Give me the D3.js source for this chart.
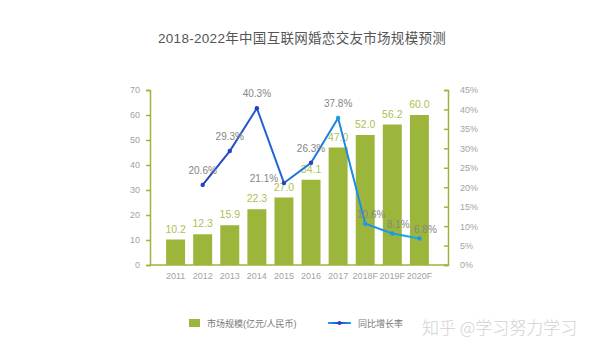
<!DOCTYPE html>
<html>
<head>
<meta charset="utf-8">
<script src="https://cdn.jsdelivr.net/npm/d3@7"></script>
<style>
  body { margin: 0; background: #fff; }
  svg { display: block; font-family: "Liberation Sans", "Noto Sans CJK SC", sans-serif; }
</style>
</head>
<body>
<svg id="chart" width="600" height="352"></svg>
<script>
// chart data
const years = ['2011', '2012', '2013', '2014', '2015', '2016', '2017', '2018F', '2019F', '2020F'];
const marketSize = [10.2, 12.3, 15.9, 22.3, 27.0, 34.1, 47.0, 52.0, 56.2, 60.0];
const growth = [null, 20.6, 29.3, 40.3, 21.1, 26.3, 37.8, 10.6, 8.1, 6.8];
const leftTicks = [0, 10, 20, 30, 40, 50, 60, 70];
const rightTicks = [0, 5, 10, 15, 20, 25, 30, 35, 40, 45];

const green = '#9cb53b';
const svg = d3.select('#chart');

// title
svg.append('text')
  .attr('x', 302).attr('y', 43)
  .attr('text-anchor', 'middle')
  .attr('font-size', 13.5)
  .attr('letter-spacing', 0.3)
  .attr('fill', '#555')
  .text('2018-2022年中国互联网婚恋交友市场规模预测');

// scales
const x = d3.scaleBand().domain(years).range([158, 437]).padding(0.3);
const yLeft = d3.scaleLinear().domain([0, 70]).range([265, 90]);
const yRight = d3.scaleLinear().domain([0, 45]).range([265, 90]);

// bars
svg.append('g').selectAll('rect')
  .data(years)
  .join('rect')
  .attr('x', d => x(d))
  .attr('width', x.bandwidth())
  .attr('y', (d, i) => yLeft(marketSize[i]))
  .attr('height', (d, i) => yLeft(0) - yLeft(marketSize[i]))
  .attr('fill', green);

// axes
const leftAxis = svg.append('g')
  .attr('transform', 'translate(150,0)')
  .call(d3.axisLeft(yLeft).tickValues(leftTicks).tickSize(4).tickPadding(6));

const rightAxis = svg.append('g')
  .attr('transform', 'translate(448,0)')
  .call(d3.axisRight(yRight).tickValues(rightTicks).tickSize(-4).tickPadding(12)
    .tickFormat(d => d + '%'));

const bottomAxis = svg.append('g')
  .attr('transform', 'translate(0,265)')
  .call(d3.axisBottom(x).tickSize(0).tickPadding(8));
bottomAxis.select('.domain').attr('d', 'M150,0H448');

[leftAxis, rightAxis, bottomAxis].forEach(g => {
  g.selectAll('.domain').attr('stroke', green).attr('stroke-width', 1.5);
  g.selectAll('.tick line').attr('stroke', green).attr('stroke-width', 1.5);
  g.selectAll('.tick text').attr('fill', '#a3a3a3').attr('font-size', 9);
});

// bar value labels
svg.append('g').selectAll('text')
  .data(years)
  .join('text')
  .attr('x', d => x(d) + x.bandwidth() / 2)
  .attr('y', (d, i) => yLeft(marketSize[i]) - 7)
  .attr('text-anchor', 'middle')
  .attr('font-size', 10.5)
  .attr('fill', '#adc153')
  .text((d, i) => marketSize[i].toFixed(1));

// growth line
const pts = years.map((d, i) => ({ year: d, v: growth[i] })).filter(p => p.v !== null);
const cx = d => x(d.year) + x.bandwidth() / 2;

const grad = svg.append('defs').append('linearGradient')
  .attr('id', 'lineGrad')
  .attr('gradientUnits', 'userSpaceOnUse')
  .attr('x1', cx(pts[0])).attr('x2', cx(pts[pts.length - 1]))
  .attr('y1', 0).attr('y2', 0);
grad.append('stop').attr('offset', '0%').attr('stop-color', '#2741c2');
grad.append('stop').attr('offset', '55%').attr('stop-color', '#1c7de0');
grad.append('stop').attr('offset', '100%').attr('stop-color', '#19a9f0');

svg.append('path')
  .datum(pts)
  .attr('fill', 'none')
  .attr('stroke', 'url(#lineGrad)')
  .attr('stroke-width', 2)
  .attr('d', d3.line().x(cx).y(d => yRight(d.v)));

svg.append('g').selectAll('circle')
  .data(pts)
  .join('circle')
  .attr('cx', cx)
  .attr('cy', d => yRight(d.v))
  .attr('r', 2.2)
  .attr('fill', (d, i) => i < 5 ? '#2741c2' : '#1a9ae8');

// growth labels (2015 one sits to the left of its point)
const labelShift = { '2015': [-20, -1], '2018F': [6, -6], '2019F': [6, -6], '2020F': [6, -6] };
svg.append('g').selectAll('text')
  .data(pts)
  .join('text')
  .attr('x', d => cx(d) + (labelShift[d.year] ? labelShift[d.year][0] : 0))
  .attr('y', d => yRight(d.v) + (labelShift[d.year] ? labelShift[d.year][1] : -11))
  .attr('text-anchor', 'middle')
  .attr('font-size', 10)
  .attr('fill', '#858585')
  .text(d => d.v.toFixed(1) + '%');

// legend
const legend = svg.append('g').attr('font-size', 9).attr('fill', '#777');
legend.append('rect').attr('x', 189).attr('y', 319).attr('width', 11).attr('height', 8).attr('fill', green);
legend.append('text').attr('x', 207).attr('y', 326.5).text('市场规模(亿元/人民币)');

const lg = svg.append('defs').append('linearGradient').attr('id', 'legGrad');
lg.append('stop').attr('offset', '0%').attr('stop-color', '#19a9f0');
lg.append('stop').attr('offset', '50%').attr('stop-color', '#2741c2');
lg.append('stop').attr('offset', '100%').attr('stop-color', '#19a9f0');
legend.append('rect').attr('x', 328).attr('y', 322).attr('width', 23).attr('height', 2).attr('fill', 'url(#legGrad)');
legend.append('circle').attr('cx', 339.5).attr('cy', 323).attr('r', 2).attr('fill', '#2741c2');
legend.append('text').attr('x', 358).attr('y', 326.5).text('同比增长率');

// watermark
svg.append('text')
  .attr('x', 422).attr('y', 334)
  .attr('font-size', 17)
  .attr('fill', '#d2d2d2')
  .attr('font-family', '"Noto Sans CJK SC", sans-serif')
  .attr('font-weight', 300)
  .text('知乎 @学习努力学习');
</script>
</body>
</html>
